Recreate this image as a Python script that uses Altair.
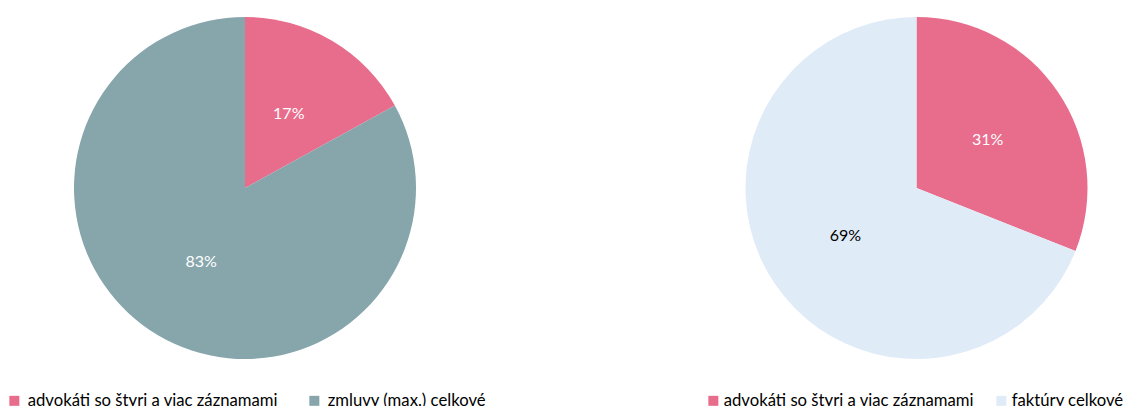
import altair as alt
import pandas as pd

left_categories = ["advokáti so štyri a viac záznamami", "zmluvy (max.) celkové"]
left_values = [17, 83]
right_categories = ["advokáti so štyri a viac záznamami", "faktúry celkové"]
right_values = [31, 69]
panels = [0, 1]

PINK = "#E86C8C"
TEAL = "#86A6AC"
LIGHT = "#DFEBF7"
FONT = "Lato"

# pie centre positions (layout) for the two panels
x_scale = alt.Scale(domain=panels, range=[237, 908.5])
y_center = 180
theta_scale = alt.Scale(domain=[0, 100])


def make_base(panel, cats, vals):
    df = pd.DataFrame(
        {
            "cat": cats,
            "val": vals,
            "order": list(range(len(cats))),
            "panel": [panel] * len(cats),
        }
    )
    df["label"] = df["val"].astype(str) + "%"
    return (
        alt.Chart(df)
        .transform_stack(
            stack="val", groupby=[], as_=["v0", "v1"], sort=[alt.SortField("order")]
        )
        .transform_calculate(mid="(datum.v0 + datum.v1) / 2")
        .encode(
            x=alt.X("panel:Q", scale=x_scale, axis=None, stack=None),
            y=alt.value(y_center),
        )
    )


def legend(legend_x, label_offset, col_pad):
    return alt.Legend(
        title=None,
        orient="none",
        legendX=legend_x,
        legendY=384,
        direction="horizontal",
        symbolType="square",
        symbolSize=100,
        symbolStrokeWidth=0,
        labelFontSize=16.7,
        labelFont=FONT,
        labelColor="#000000",
        labelOffset=label_offset,
        columnPadding=col_pad,
        padding=0,
        labelLimit=500,
    )


left_base = make_base(0, left_categories, left_values)
right_base = make_base(1, right_categories, right_values)

left_arc = left_base.mark_arc(outerRadius=171).encode(
    theta=alt.Theta("v0:Q", scale=theta_scale, stack=None),
    theta2="v1:Q",
    color=alt.Color(
        "cat:N",
        scale=alt.Scale(domain=left_categories, range=[PINK, TEAL]),
        legend=legend(-2, 5, 28),
    ),
)

right_arc = right_base.mark_arc(outerRadius=171).encode(
    theta=alt.Theta("v0:Q", scale=theta_scale, stack=None),
    theta2="v1:Q",
    fill=alt.Fill(
        "cat:N",
        scale=alt.Scale(domain=right_categories, range=[PINK, LIGHT]),
        legend=legend(697, 2, 19),
    ),
)

left_text = left_base.mark_text(radius=86, fontSize=16, font=FONT, color="#FFFFFF").encode(
    theta=alt.Theta("mid:Q", scale=theta_scale, stack=None),
    text="label:N",
)

right_text = right_base.mark_text(radius=86, fontSize=16, font=FONT).encode(
    theta=alt.Theta("mid:Q", scale=theta_scale, stack=None),
    text="label:N",
    color=alt.condition(
        alt.datum.cat == "faktúry celkové", alt.value("#000000"), alt.value("#FFFFFF")
    ),
)

chart = (
    alt.layer(left_arc, right_arc, left_text, right_text)
    .properties(
        width=1116,
        height=400,
        padding=0,
        background="#FFFFFF",
        autosize=alt.AutoSizeParams(type="none"),
    )
    .configure_view(stroke=None)
)

chart.save("out.html", embed_options={"renderer": "svg", "actions": False})
